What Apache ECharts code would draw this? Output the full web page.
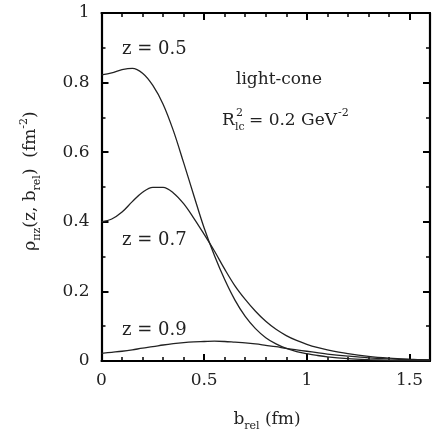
<!DOCTYPE html>
<html>
<head>
<meta charset="utf-8">
<script src="https://cdn.jsdelivr.net/npm/echarts@6/dist/echarts.min.js"></script>
<style>
html,body{margin:0;padding:0;background:#fff;}
#c{width:433px;height:436px;}
</style>
</head>
<body>
<div id="c"></div>
<script>
// b_rel (fm)
var bRel = [0,0.05,0.1,0.15,0.2,0.25,0.3,0.35,0.4,0.45,0.5,0.55,0.6,0.65,0.7,0.75,0.8,0.85,0.9,0.95,1.0,1.05,1.1,1.2,1.3,1.4,1.5,1.6];
// rho(z, b_rel) for z = 0.5, 0.7, 0.9 (fm^-2)
var rhoZ05 = [0.822,0.828,0.837,0.841,0.827,0.792,0.738,0.662,0.57,0.475,0.382,0.303,0.234,0.175,0.128,0.093,0.067,0.049,0.036,0.027,0.021,0.016,0.012,0.007,0.004,0.002,0.001,0.001];
var rhoZ07 = [0.40,0.408,0.428,0.458,0.485,0.499,0.499,0.483,0.452,0.41,0.364,0.316,0.264,0.216,0.177,0.143,0.114,0.091,0.073,0.059,0.048,0.039,0.032,0.021,0.013,0.008,0.005,0.003];
var rhoZ09 = [0.022,0.025,0.028,0.032,0.037,0.041,0.046,0.05,0.053,0.055,0.056,0.057,0.056,0.054,0.052,0.049,0.045,0.041,0.036,0.032,0.028,0.024,0.02,0.014,0.009,0.006,0.004,0.003];
var xTicks = ['0','0.5','1','1.5'];
var yTicks = ['0','0.2','0.4','0.6','0.8','1'];

function pairs(ys){ return bRel.map(function(b,i){ return [b, ys[i]]; }); }

var FONT = 'DejaVu Serif';
var chart = echarts.init(document.getElementById('c'), null, {renderer:'canvas'});

function xAx(pos, showLabel){
  return {
    type:'value', min:0, max:1.6, interval:0.5, position:pos,
    axisLine:{show:true, onZero:false, lineStyle:{color:'#000', width:2.2}},
    axisTick:{show:true, inside:true, length:7, lineStyle:{color:'#000', width:2}},
    minorTick:{show:true, splitNumber:5, length:4, lineStyle:{color:'#000', width:1.5}},
    splitLine:{show:false},
    axisLabel:{show:showLabel, margin:11, color:'#222', fontFamily:FONT, fontSize:17,
      formatter:function(v){ var s = String(Math.round(v*10)/10); return xTicks.indexOf(s) >= 0 ? s : ''; }}
  };
}
function yAx(pos, showLabel){
  return {
    type:'value', min:0, max:1, interval:0.2, position:pos,
    axisLine:{show:true, onZero:false, lineStyle:{color:'#000', width:2.2}},
    axisTick:{show:true, inside:true, length:7, lineStyle:{color:'#000', width:2}},
    minorTick:{show:true, splitNumber:2, length:4, lineStyle:{color:'#000', width:1.5}},
    splitLine:{show:false},
    axisLabel:{show:showLabel, margin:12, color:'#222', fontFamily:FONT, fontSize:17,
      formatter:function(v){ var s = String(Math.round(v*10)/10); return yTicks.indexOf(s) >= 0 ? s : ''; }}
  };
}

var lineStyle = {color:'#222', width:1.3};
function ser(ys){
  return {type:'line', data:pairs(ys), smooth:0.35, showSymbol:false, symbol:'none',
    lineStyle:lineStyle, xAxisIndex:0, yAxisIndex:0, animation:false};
}

function txt(x, y, text, size, extra){
  var st = {text:text, fontFamily:FONT, fontSize:size, fill:'#222', align:'left', verticalAlign:'middle'};
  if (extra) for (var k in extra) st[k] = extra[k];
  return {type:'text', x:x, y:y, style:st, silent:true};
}

chart.setOption({
  backgroundColor:'#fff',
  animation:false,
  grid:{left:101.5, right:2.4, top:13, bottom:75, containLabel:false},
  xAxis:[xAx('bottom', true), xAx('top', false)],
  yAxis:[yAx('left', true), yAx('right', false)],
  series:[ser(rhoZ05), ser(rhoZ07), ser(rhoZ09)],
  graphic:[
    txt(122, 49, 'z = 0.5', 18),
    txt(122, 240, 'z = 0.7', 18),
    txt(122, 330, 'z = 0.9', 18),
    txt(236, 80, 'light-cone', 17),
    txt(222, 121, 'R', 17),
    txt(236, 113, '2', 11),
    txt(235, 127, 'lc', 11),
    txt(249, 121, '= 0.2 GeV', 17),
    txt(338, 113, '-2', 11),
    {type:'text', x:267, y:420, silent:true, style:{
      text:'{a|b}{s|rel}{a| (fm)}', align:'center', verticalAlign:'middle', fill:'#222',
      rich:{a:{fontFamily:FONT, fontSize:17, lineHeight:24, verticalAlign:'middle'},
            s:{fontFamily:FONT, fontSize:11, lineHeight:14, verticalAlign:'bottom'}}}},
    {type:'text', x:31, y:181, rotation:Math.PI/2, silent:true, style:{
      text:'{a|ρ}{s|πz}{a|(z, b}{s|rel}{a|)  (fm}{p|-2}{a|)}', align:'center', verticalAlign:'middle', fill:'#222',
      rich:{a:{fontFamily:FONT, fontSize:17, lineHeight:24, verticalAlign:'middle'},
            s:{fontFamily:FONT, fontSize:11, lineHeight:14, verticalAlign:'bottom'},
            p:{fontFamily:FONT, fontSize:11, lineHeight:14, verticalAlign:'top'}}}}
  ]
});
</script>
</body>
</html>
